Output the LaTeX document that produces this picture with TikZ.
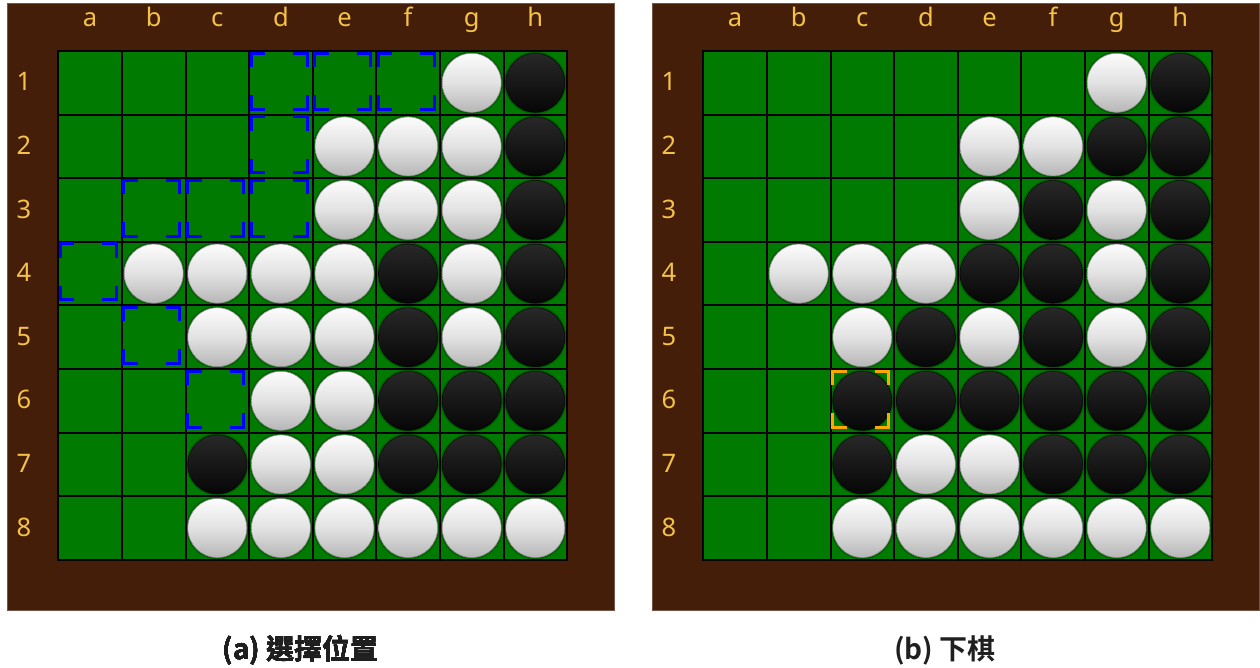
\documentclass[tikz,border=0pt]{standalone}
\usepackage{fontspec}
\setmainfont{Noto Sans}
\newfontfamily\cjkfont{Noto Sans CJK TC}[BoldFont={* Bold}]
\definecolor{boardbrown}{RGB}{68,30,8}
\definecolor{felt}{RGB}{0,122,0}
\definecolor{labelgold}{RGB}{244,194,70}
\definecolor{hintblue}{RGB}{0,0,255}
\definecolor{lastorange}{RGB}{255,166,0}
\definecolor{wtop}{RGB}{252,252,252}
\definecolor{wmid}{RGB}{226,226,226}
\definecolor{wbot}{RGB}{182,182,182}
\definecolor{btop}{RGB}{40,40,40}
\definecolor{bbot}{RGB}{6,6,6}
\tikzset{
  wpiece/.style={circle, inner sep=0pt, minimum size=59pt, top color=wtop, bottom color=wbot, middle color=wmid, draw=black!45, line width=0.6pt},
  bpiece/.style={circle, inner sep=0pt, minimum size=59pt, top color=btop, bottom color=bbot, draw=black, line width=0.4pt},
  halo/.style={fill=black, opacity=0.16},
  gridline/.style={black, line width=2pt, line cap=rect},
  boardlab/.style={text=labelgold, font=\fontsize{25.5}{25.5}\selectfont, anchor=base, inner sep=0pt},
  caption/.style={font=\cjkfont\bfseries\fontsize{28}{28}\selectfont, anchor=base, inner sep=0pt, text=black!88},
  corner/.style={line width=3pt, line join=miter},
}
\newcommand\othelloboard[2]{%
  \node[fill=boardbrown, draw=boardbrown!75!white, line width=0.8pt, minimum width=607pt, minimum height=607pt, inner sep=0pt, anchor=north west] (#2-board) at (#1+7,3) {};
  \node[fill=felt, minimum size=508.8pt, inner sep=0pt, anchor=north west] (#2-grid) at (#1+58.3,51) {};
  \foreach \i in {0,...,8} {
    \draw[gridline] ({#1+58.3+\i*63.6},51) -- ({#1+58.3+\i*63.6},559.8);
    \draw[gridline] ({#1+58.3},{51+\i*63.6}) -- ({#1+567.1},{51+\i*63.6});
  }
  \foreach \l [count=\k] in {a,b,c,d,e,f,g,h}
    \node[boardlab] (#2-col-\l) at ({#1+58.3+(\k-0.5)*63.6},26) {\l};
  \foreach \k in {1,...,8}
    \node[boardlab] (#2-row-\k) at ({#1+24},{51+(\k-0.5)*63.6+8}) {\k};
}
\newcommand\placepieces[4]{%
  \foreach \c/\r in {#4} {
    \fill[halo] ({#1+58.3+(\c-0.5)*63.6},{51+(\r-0.5)*63.6}) circle (31.3);
    \fill[halo] ({#1+58.3+(\c-0.5)*63.6},{51+(\r-0.5)*63.6}) circle (30.4);
    \node[#3] (#2-\c-\r) at ({#1+58.3+(\c-0.5)*63.6},{51+(\r-0.5)*63.6}) {};
  }
}
\newcommand\cornermarks[4]{%
  \pgfmathsetmacro\cmxa{#1+58.3+(#2-1)*63.6+2}%
  \pgfmathsetmacro\cmxb{\cmxa+56}%
  \pgfmathsetmacro\cmya{51+(#3-1)*63.6+2}%
  \pgfmathsetmacro\cmyb{\cmya+56}%
  \draw[corner,#4] (\cmxa,\cmya+14) -- (\cmxa,\cmya) -- (\cmxa+14,\cmya);
  \draw[corner,#4] (\cmxb-14,\cmya) -- (\cmxb,\cmya) -- (\cmxb,\cmya+14);
  \draw[corner,#4] (\cmxa,\cmyb-14) -- (\cmxa,\cmyb) -- (\cmxa+14,\cmyb);
  \draw[corner,#4] (\cmxb-14,\cmyb) -- (\cmxb,\cmyb) -- (\cmxb,\cmyb-14);
}
\begin{document}
\begin{tikzpicture}[x=1pt,y=-1pt]
  \fill[white] (0,0) rectangle (1260,667);
  \useasboundingbox (0,0) rectangle (1260,667);
  % ---------- board (a) ----------
  \othelloboard{0}{L}
  \placepieces{0}{L}{wpiece}{7/1, 5/2,6/2,7/2, 5/3,6/3,7/3, 2/4,3/4,4/4,5/4,7/4, 3/5,4/5,5/5,7/5, 4/6,5/6, 4/7,5/7, 3/8,4/8,5/8,6/8,7/8,8/8}
  \placepieces{0}{L}{bpiece}{8/1, 8/2, 8/3, 6/4,8/4, 6/5,8/5, 6/6,7/6,8/6, 3/7,6/7,7/7,8/7}
  \foreach \c/\r in {4/1,5/1,6/1, 4/2, 2/3,3/3,4/3, 1/4, 2/5, 3/6}
    \cornermarks{0}{\c}{\r}{hintblue}
  % ---------- board (b) ----------
  \othelloboard{645}{R}
  \placepieces{645}{R}{wpiece}{7/1, 5/2,6/2, 5/3,7/3, 2/4,3/4,4/4,7/4, 3/5,5/5,7/5, 4/7,5/7, 3/8,4/8,5/8,6/8,7/8,8/8}
  \placepieces{645}{R}{bpiece}{8/1, 7/2,8/2, 6/3,8/3, 5/4,6/4,8/4, 4/5,6/5,8/5, 3/6,4/6,5/6,6/6,7/6,8/6, 3/7,6/7,7/7,8/7}
  \cornermarks{645}{3}{6}{lastorange}
  % ---------- captions ----------
  \node[caption] (capA) at (300.5,659) {(a) 選擇位置};
  \node[caption] (capB) at (945,659) {(b) 下棋};
\end{tikzpicture}
\end{document}
